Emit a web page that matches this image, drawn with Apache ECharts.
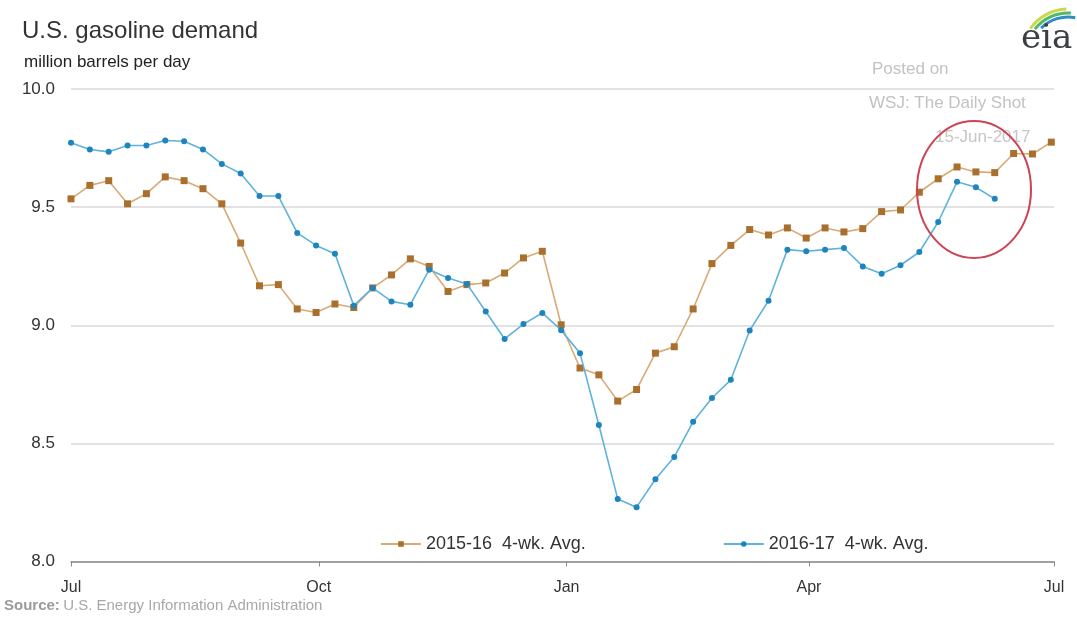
<!DOCTYPE html>
<html>
<head>
<meta charset="utf-8">
<title>U.S. gasoline demand</title>
<script src="https://cdn.jsdelivr.net/npm/echarts@6/dist/echarts.min.js"></script>
<style>
  html, body { margin: 0; padding: 0; background: #fff; }
  #chart { width: 1077px; height: 623px; }
</style>
</head>
<body>
<div id="chart"></div>
<script>
// Weekly 4-week average U.S. gasoline demand, million barrels per day.
// Week 0 is the first week of July; x is measured in days from July 1.
const seriesNames = ['2015-16  4-wk. Avg.', '2016-17  4-wk. Avg.'];

const demand2015_16 = [
  9.535, 9.592, 9.612, 9.514, 9.557, 9.628, 9.612, 9.578, 9.514, 9.348,
  9.167, 9.172, 9.069, 9.054, 9.090, 9.075, 9.158, 9.213, 9.281, 9.249,
  9.143, 9.172, 9.179, 9.221, 9.285, 9.313, 9.002, 8.819, 8.790, 8.679,
  8.728, 8.882, 8.909, 9.069, 9.261, 9.338, 9.405, 9.382, 9.412, 9.369,
  9.412, 9.395, 9.409, 9.481, 9.488, 9.563, 9.620, 9.670, 9.649, 9.646,
  9.727, 9.725, 9.775
];

const demand2016_17 = [
  9.772, 9.744, 9.734, 9.761, 9.761, 9.782, 9.779, 9.744, 9.683, 9.642,
  9.547, 9.547, 9.391, 9.338, 9.303, 9.083, 9.158, 9.101, 9.087, 9.235,
  9.200, 9.175, 9.058, 8.942, 9.005, 9.052, 8.979, 8.882, 8.578, 8.265,
  8.230, 8.348, 8.442, 8.592, 8.692, 8.769, 8.978, 9.104, 9.320, 9.313,
  9.320, 9.327, 9.249, 9.218, 9.254, 9.310, 9.437, 9.607, 9.584, 9.535
];

// Month ticks: day offsets from July 1 and their labels
const monthTickDays = [0, 92, 184, 274, 365];
const monthTickLabels = ['Jul', 'Oct', 'Jan', 'Apr', 'Jul'];

const yTicks = [8.0, 8.5, 9.0, 9.5, 10.0];

// Highlighted recent weeks (week index and demand level at the ring's centre)
const ringCentre = { week: 47.9, value: 9.575 };

const toPoints = arr => arr.map((v, i) => [i * 7, v]);

const FONT = '"Liberation Sans", Arial, sans-serif';

const chart = echarts.init(document.getElementById('chart'), null, { renderer: 'canvas' });

const option = {
  animation: false,
  backgroundColor: '#ffffff',
  textStyle: { fontFamily: FONT },
  grid: { left: 71, right: 23, top: 89, bottom: 61.5, containLabel: false },
  title: [
    {
      text: 'U.S. gasoline demand',
      left: 17, top: 14,
      textStyle: { fontFamily: FONT, fontSize: 24, fontWeight: 'normal', color: '#333333' }
    },
    {
      text: 'million barrels per day',
      left: 19, top: 49,
      textStyle: { fontFamily: FONT, fontSize: 17, fontWeight: 'normal', color: '#222222' }
    }
  ],
  legend: {
    data: seriesNames,
    left: 375, top: 530,
    itemWidth: 40, itemHeight: 7,
    itemGap: 137,
    textStyle: { fontFamily: FONT, fontSize: 18, color: '#333333' }
  },
  xAxis: {
    type: 'value',
    min: 0, max: 365,
    axisLine: { show: true, lineStyle: { color: '#8a8a8a', width: 1.5 } },
    axisTick: { show: true, length: 5, lineStyle: { color: '#8a8a8a' }, customValues: monthTickDays },
    axisLabel: {
      customValues: monthTickDays,
      margin: 18,
      fontFamily: FONT, fontSize: 16, color: '#333333',
      formatter: v => monthTickLabels[monthTickDays.indexOf(v)] || ''
    },
    splitLine: { show: false }
  },
  yAxis: {
    type: 'value',
    min: yTicks[0], max: yTicks[yTicks.length - 1], interval: 0.5,
    axisLine: { show: false },
    axisTick: { show: false },
    axisLabel: {
      margin: 16,
      fontFamily: FONT, fontSize: 17, color: '#333333',
      formatter: v => v.toFixed(1)
    },
    splitLine: { show: true, lineStyle: { color: '#e2e2e2', width: 2 } }
  },
  series: [
    {
      name: seriesNames[0],
      type: 'line',
      data: toPoints(demand2015_16),
      symbol: 'rect', symbolSize: 7,
      itemStyle: { color: '#a96f2d' },
      lineStyle: { color: '#d9aa74', width: 1.6 },
      z: 2
    },
    {
      name: seriesNames[1],
      type: 'line',
      data: toPoints(demand2016_17),
      symbol: 'circle', symbolSize: 6,
      itemStyle: { color: '#1d84bd' },
      lineStyle: { color: '#5fb2dc', width: 1.6 },
      z: 3
    }
  ]
};

chart.setOption(option);

// Annotations: watermark, source note, logo and the ring around the latest weeks
const centre = chart.convertToPixel({ gridIndex: 0 }, [ringCentre.week * 7, ringCentre.value]);
const halfUnitPx = chart.convertToPixel({ gridIndex: 0 }, [0, 9.0])[1] - chart.convertToPixel({ gridIndex: 0 }, [0, 9.5])[1];

const LOGO_CX = 1068, LOGO_CY = 55;

chart.setOption({
  graphic: [
    {
      type: 'text', left: 872, top: 61,
      style: { text: 'Posted on', fontFamily: FONT, fontSize: 17, fill: '#c2c2c2' }
    },
    {
      type: 'text', left: 869, top: 95,
      style: { text: 'WSJ: The Daily Shot', fontFamily: FONT, fontSize: 17, fill: '#c2c2c2' }
    },
    {
      type: 'text', left: 935, top: 129,
      style: { text: '15-Jun-2017', fontFamily: FONT, fontSize: 17, fill: '#c6c6c6' }
    },
    {
      type: 'ellipse',
      shape: { cx: centre[0], cy: centre[1], rx: 57, ry: halfUnitPx * 0.58 },
      style: { fill: 'none', stroke: '#cc4455', lineWidth: 2 },
      z: 10
    },
    {
      type: 'text', left: 4, top: 598,
      style: {
        text: '{b|Source:} {n|U.S. Energy Information Administration}',
        rich: {
          b: { fontFamily: FONT, fontSize: 15, fontWeight: 'bold', fill: '#9a9a9a' },
          n: { fontFamily: FONT, fontSize: 15, fill: '#a8a8a8' }
        }
      }
    },
    // eia logo: three swooping bands over the lettering
    {
      type: 'arc',
      shape: { cx: LOGO_CX, cy: LOGO_CY, r: 46, startAngle: Math.PI * 215 / 180, endAngle: Math.PI * 268 / 180 },
      style: { fill: 'none', stroke: '#c9d84c', lineWidth: 3 }
    },
    {
      type: 'arc',
      shape: { cx: LOGO_CX, cy: LOGO_CY, r: 42, startAngle: Math.PI * 218 / 180, endAngle: Math.PI * 274 / 180 },
      style: { fill: 'none', stroke: '#55b766', lineWidth: 3 }
    },
    {
      type: 'arc',
      shape: { cx: LOGO_CX, cy: LOGO_CY, r: 38, startAngle: Math.PI * 225 / 180, endAngle: Math.PI * 281 / 180 },
      style: { fill: 'none', stroke: '#2e8cc8', lineWidth: 3 }
    },
    {
      type: 'text', left: 1021, top: 22,
      style: { text: 'eia', fontFamily: '"DejaVu Serif", "Liberation Serif", serif', fontSize: 34, fill: '#3a3f44' }
    }
  ]
});
</script>
</body>
</html>
